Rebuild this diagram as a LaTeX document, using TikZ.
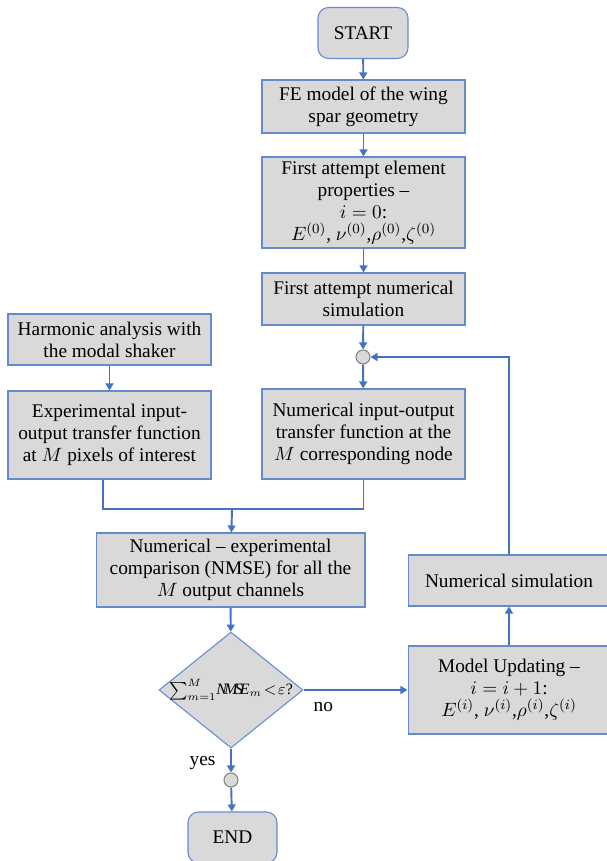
\documentclass[tikz,border=0pt]{standalone}
\usepackage{fontspec}
\setmainfont{Liberation Serif}
\usetikzlibrary{shapes.geometric,arrows.meta}
\definecolor{flowblue}{RGB}{68,114,196}
\definecolor{boxedge}{RGB}{100,140,205}
\definecolor{boxfill}{RGB}{217,217,217}
\begin{document}
\begin{tikzpicture}[x=0.02cm,y=-0.02cm,
    box/.style={draw=boxedge,fill=boxfill,line width=0.6pt,align=center,inner sep=0pt,
        font=\fontsize{11}{12.5}\selectfont},
    term/.style={box,rounded corners=6pt},
    joint/.style={circle,draw=gray,fill=boxfill,line width=0.6pt,minimum size=0.28cm,inner sep=0pt},
    decision/.style={box,diamond,aspect=1.24,inner sep=-10pt,font=\fontsize{9}{11}\selectfont},
    flow/.style={draw=flowblue,line width=1.1pt,-{Triangle[width=4.5pt,length=4pt]}},
    wire/.style={draw=flowblue,line width=1.1pt},
    tag/.style={font=\fontsize{11}{12.5}\selectfont}]
    \useasboundingbox (0,0) rectangle (606,861);
    % main column
    \node[term,minimum width=1.8cm,minimum height=1.02cm] (start) at (363,33) {START};
    \node[box,minimum width=4.06cm,minimum height=1.06cm] (fe) at (363.5,106.5) {FE model of the wing\\spar geometry};
    \node[box,minimum width=4.06cm,minimum height=1.82cm] (props) at (363.5,202.5) {First attempt element\\properties --\\$i=0$:\\$E^{(0)}$, $\nu^{(0)}$,$\rho^{(0)}$,$\zeta^{(0)}$};
    \node[box,minimum width=4.06cm,minimum height=1.04cm] (firstsim) at (363.5,299) {First attempt numerical\\simulation};
    \node[joint] (joinA) at (363,357) {};
    \node[box,minimum width=4.06cm,minimum height=1.8cm] (numtf) at (363.5,434) {Numerical input-output\\transfer function at the\\$M$ corresponding node};
    % experimental column
    \node[box,minimum width=4.06cm,minimum height=1.02cm] (harm) at (109.5,339.5) {Harmonic analysis with\\the modal shaker};
    \node[box,minimum width=4.06cm,minimum height=1.76cm] (exptf) at (109.5,435) {Experimental input-\\output transfer function\\at $M$ pixels of interest};
    \coordinate (merge) at (232,509);
    % comparison and check
    \node[box,minimum width=5.38cm,minimum height=1.48cm] (comp) at (230.5,570) {Numerical -- experimental\\comparison (NMSE) for all the\\$M$ output channels};
    \node[decision,minimum width=2.88cm,minimum height=2.32cm] (check) at (231,690) {$\sum\nolimits_{m=1}^{M}\!\mathit{N\!M\!S\!E}_m\!<\!\varepsilon$?};
    \node[joint] (joinB) at (231,780) {};
    \node[term,minimum width=1.78cm,minimum height=1.02cm] (finish) at (232.5,837.5) {END};
    % update loop
    \node[box,minimum width=4.04cm,minimum height=1.76cm] (upd) at (509,690) {Model Updating --\\$i=i+1$:\\$E^{(i)}$, $\nu^{(i)}$,$\rho^{(i)}$,$\zeta^{(i)}$};
    \node[box,minimum width=4.04cm,minimum height=1.02cm] (numsim) at (509,580.5) {Numerical simulation};
    % connectors
    \draw[flow] (start) -- (fe);
    \draw[flow] (fe) -- (props);
    \draw[flow] (props) -- (firstsim);
    \draw[flow] (firstsim) -- (joinA);
    \draw[flow] (joinA) -- (numtf);
    \draw[flow] (harm) -- (exptf);
    \draw[wire] ([xshift=-0.13cm]exptf.south) |- (merge) -| (numtf.south);
    \draw[flow] (merge) -- (comp);
    \draw[flow] (comp) -- (check);
    \draw[flow] (check.east) -- node[tag,pos=0.19,below=3pt] {no} (upd.west);
    \draw[flow] (upd) -- (numsim);
    \draw[flow] (numsim.north) |- (joinA.east);
    \draw[flow] (check.south) -- node[tag,pos=0.6,left=5pt] {yes} (joinB);
    \draw[flow] (joinB) -- (finish);
\end{tikzpicture}
\end{document}
